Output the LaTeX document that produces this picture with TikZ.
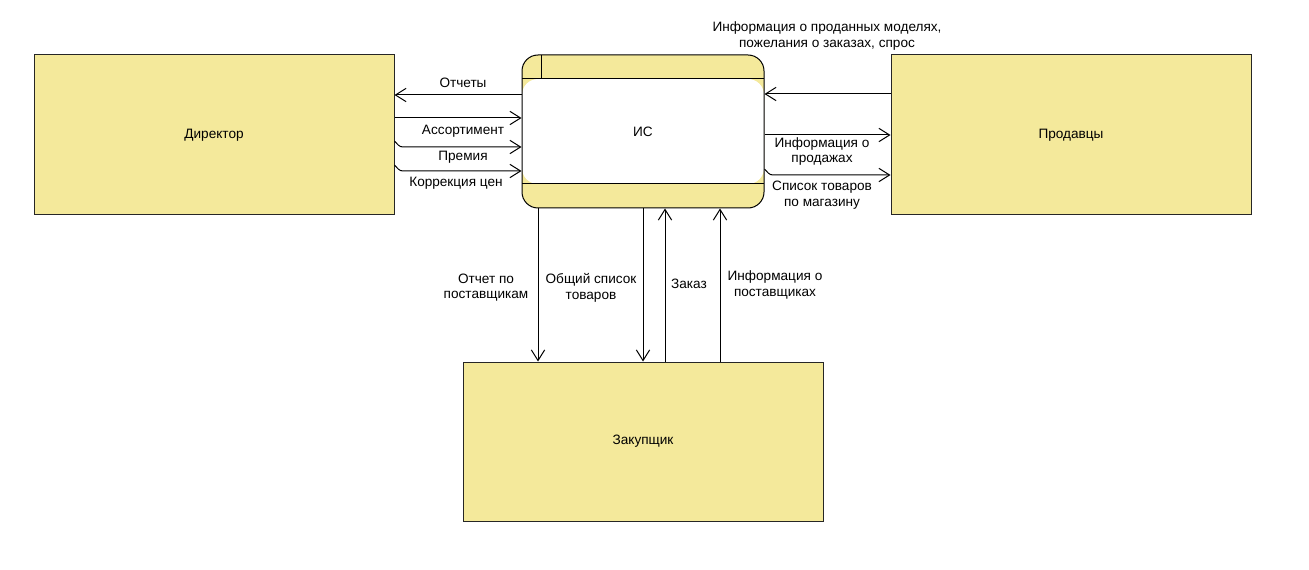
\documentclass[tikz,border=0pt]{standalone}
\usepackage{fontspec}
\setmainfont{Liberation Sans}
\usetikzlibrary{arrows.meta}
\definecolor{boxfill}{HTML}{F4E99B}
\begin{document}
\begin{tikzpicture}[x=0.75pt,y=-0.75pt,
  txt/.style={font=\fontsize{10.2}{11.8}\selectfont},
  box/.style={txt,draw=black!85,fill=boxfill,line width=0.75pt,minimum width=270pt,minimum height=120pt,inner sep=0pt},
  isbox/.style={txt,draw=black,fill=boxfill,line width=0.75pt,rounded corners=12pt,minimum width=181.5pt,minimum height=114.75pt,inner sep=0pt,
    path picture={
      \fill[white] ([yshift=-18pt]path picture bounding box.north west) rectangle ([yshift=18pt]path picture bounding box.south east);
      \draw[line width=0.75pt] ([yshift=-18pt]path picture bounding box.north west) -- ([yshift=-18pt]path picture bounding box.north east);
      \draw[line width=0.75pt] ([yshift=18pt]path picture bounding box.south west) -- ([yshift=18pt]path picture bounding box.south east);
      \draw[line width=0.75pt] ([xshift=14.5pt]path picture bounding box.north west) -- ([xshift=14.5pt,yshift=-18pt]path picture bounding box.north west);
    }},
  arr/.style={-{Straight Barb[length=8pt,width=10pt,line width=0.75pt]},line width=0.75pt},
  lbl/.style={txt,align=center,inner sep=0pt}]
\useasboundingbox[fill=white] (0,0) rectangle (1309,570);

\node[box] (dir) at (214,135) {Директор};
\node[box] (sel) at (1071,135) {Продавцы};
\node[box,minimum height=119.25pt] (buy) at (643,441.5) {Закупщик};
\node[isbox] (is) at (643,131.5) {ИС};

% Director <-> IS
\draw[arr] (is.west |- 0,95) -- (dir.east |- 0,95);
\node[lbl] (l1) at (463,83) {Отчеты};
\draw[arr] (dir.east |- 0,118) -- (is.west |- 0,118);
\node[lbl] (l2) at (463,131) {Ассортимент};
\draw[arr] (dir.east |- 0,141) to[out=-45,in=180] (403,147) -- (is.west |- 0,147);
\node[lbl] (l3) at (463,157) {Премия};
\draw[arr] (dir.east |- 0,165) to[out=-45,in=180] (403,171) -- (is.west |- 0,171);
\node[lbl] (l4) at (456,183) {Коррекция цен};

% Sellers <-> IS
\draw[arr] (sel.west |- 0,94) -- (is.east |- 0,94);
\node[lbl] (l5) at (827,36) {Информация о проданных моделях,\\пожелания о заказах, спрос};
\draw[arr] (is.east |- 0,135) -- (sel.west |- 0,135);
\node[lbl] (l6) at (822,151.5) {Информация о\\продажах};
\draw[arr] (is.east |- 0,169) to[out=-45,in=180] (773,175) -- (sel.west |- 0,175);
\node[lbl] (l7) at (822,195) {Список товаров\\по магазину};

% IS <-> Buyer
\draw[arr] (is.south -| 538,0) -- (buy.north -| 538,0);
\node[lbl] (l8) at (486,287.5) {Отчет по\\поставщикам};
\draw[arr] (is.south -| 643,0) -- (buy.north -| 643,0);
\node[lbl] (l9) at (591,288) {Общий список\\товаров};
\draw[arr] (buy.north -| 665,0) -- (is.south -| 665,0);
\node[lbl] (l10) at (689,284) {Заказ};
\draw[arr] (buy.north -| 720,0) -- (is.south -| 720,0);
\node[lbl] (l11) at (775,285) {Информация о\\поставщиках};
\end{tikzpicture}
\end{document}
